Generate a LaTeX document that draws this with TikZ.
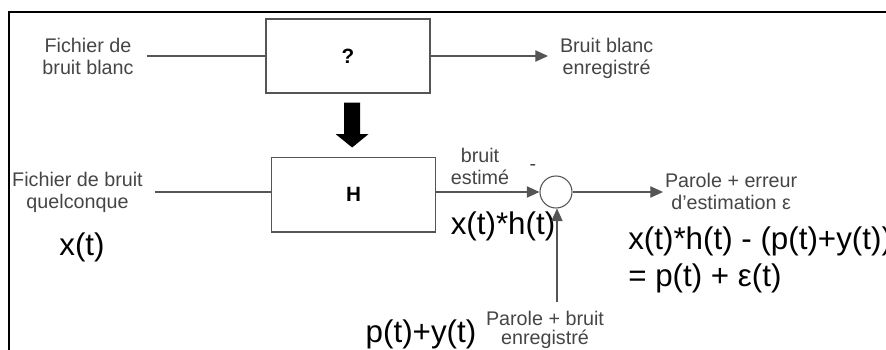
\documentclass[tikz,border=0pt]{standalone}
\usepackage{fontspec}
\setmainfont{Liberation Sans}
\usetikzlibrary{arrows.meta, positioning}
\definecolor{DiagInk}{HTML}{000000}
\definecolor{DiagLine}{HTML}{555555}
\definecolor{DiagText}{HTML}{454545}
\tikzset{
    % Filter boxes
    block/.style={
        rectangle,
        draw=DiagLine,
        line width=1pt,
        minimum width=123pt,
        minimum height=55.5pt,
        font=\fontsize{15.5}{18}\selectfont\bfseries
    },
    % Summing junction
    sum node/.style={
        circle,
        draw=DiagLine,
        line width=0.8pt,
        minimum size=24pt,
        inner sep=0pt
    },
    small label/.style={
        align=center,
        inner sep=0pt,
        text=DiagText,
        font=\fontsize{14.8}{16.5}\selectfont
    },
    big label/.style={
        align=left,
        inner sep=0pt,
        text=DiagInk,
        font=\fontsize{23.5}{28}\selectfont
    },
    line style/.style={
        draw=DiagLine,
        line width=0.8pt
    },
    arrow style/.style={
        line style,
        -{Triangle[length=9.5pt, width=8.5pt]}
    },
    big arrow/.style={
        draw=DiagInk,
        line width=12pt,
        -{Triangle[length=10pt, width=24pt]}
    }
}
\begin{document}
\begin{tikzpicture}[x=0.75pt, y=-0.75pt]
        \useasboundingbox (0,0) rectangle (886,350);

        % Frame
        \draw[DiagInk, line width=2pt] (9,350) -- (9,12) -- (886,12);

        % Identification of the unknown filter
        \node[block] (qbox) at (348,56) {?};
        \node[small label, outer xsep=10pt] (win) at (88,56) {Fichier de\\bruit blanc};
        \node[small label, anchor=west, outer xsep=9pt] (wout) at (548,58) {Bruit blanc\\enregistr\'e};
        \draw[line style] (win.east) -- (qbox.west);
        \draw[arrow style] (qbox.east) -- (wout.west |- qbox.east);

        % Filter H
        \node[block, minimum height=56pt] (hbox) at (353.5,194.5) {H};
        \node[sum node] (sum) at (556,192) {};
        \node[small label, outer xsep=9pt] (quel) at (77.5,192) {Fichier de bruit\\quelconque};
        \node[big label] (xt) at (82,247) {x(t)};
        \draw[line style] (quel.east |- sum.west) -- (hbox.west |- sum.west);

        % Estimated noise
        \node[small label] (est) at (480,166) {bruit\\estim\'e};
        \node[small label] (minus) at (533,167) {-};
        \node[big label] (xh) at (503,226) {x(t)*h(t)};
        \draw[arrow style] (hbox.east |- sum.west) -- (sum.west);

        % Recorded speech + noise
        \coordinate (pin) at (557,302);
        \node[big label] (py) at (421,334) {p(t)+y(t)};
        \node[small label, font=\fontsize{14.8}{14}\selectfont] (pin lbl) at (545,330) {Parole + bruit\\enregistr\'e};
        \draw[arrow style] (pin) -- (pin |- sum.south);

        % Output
        \node[small label, anchor=west, outer xsep=1.5pt] (out) at (663,191.5) {Parole + erreur\\d'estimation ε};
        \draw[arrow style] (sum.east) -- (out.west |- sum.east);
        \node[big label, anchor=west] (eq) at (628,260) {x(t)*h(t) - (p(t)+y(t))\\= p(t) + ε(t)};

        % Arrow from the identified filter to H
        \draw[big arrow] ([xshift=3pt, yshift=-6.75pt]qbox.south) -- ([xshift=-1pt, yshift=6.75pt]hbox.north);
    \end{tikzpicture}
\end{document}
